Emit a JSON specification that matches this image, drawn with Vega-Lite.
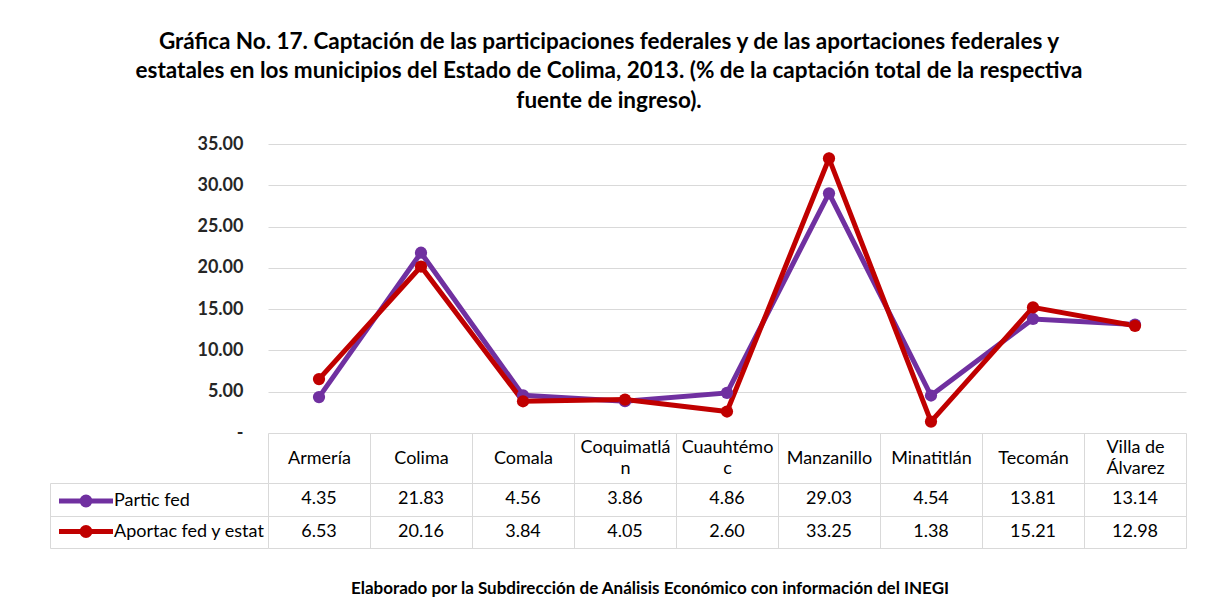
{
  "$schema": "https://vega.github.io/schema/vega-lite/v6.json",
  "autosize": "none",
  "padding": {"left": 268, "top": 144, "right": 943, "bottom": 460},
  "background": "white",
  "config": {"font": "Lato", "view": {"stroke": null}},
  "title": {
    "text": ["Gráfica No. 17. Captación de las participaciones federales y de las aportaciones federales y", "estatales en los municipios del Estado de Colima, 2013. (% de la captación total de la respectiva", "fuente de ingreso)."],
    "fontSize": 22.5, "fontWeight": "bold", "color": "black", "lineHeight": 29.5, "anchor": "middle", "offset": 23, "dx": -9
  },
  "data": {"values": [
    {"municipio": "Armería", "serie": "Partic fed", "valor": 4.35},
    {"municipio": "Colima", "serie": "Partic fed", "valor": 21.83},
    {"municipio": "Comala", "serie": "Partic fed", "valor": 4.56},
    {"municipio": "Coquimatlán", "serie": "Partic fed", "valor": 3.86},
    {"municipio": "Cuauhtémoc", "serie": "Partic fed", "valor": 4.86},
    {"municipio": "Manzanillo", "serie": "Partic fed", "valor": 29.03},
    {"municipio": "Minatitlán", "serie": "Partic fed", "valor": 4.54},
    {"municipio": "Tecomán", "serie": "Partic fed", "valor": 13.81},
    {"municipio": "Villa de Álvarez", "serie": "Partic fed", "valor": 13.14},
    {"municipio": "Armería", "serie": "Aportac fed y estat", "valor": 6.53},
    {"municipio": "Colima", "serie": "Aportac fed y estat", "valor": 20.16},
    {"municipio": "Comala", "serie": "Aportac fed y estat", "valor": 3.84},
    {"municipio": "Coquimatlán", "serie": "Aportac fed y estat", "valor": 4.05},
    {"municipio": "Cuauhtémoc", "serie": "Aportac fed y estat", "valor": 2.60},
    {"municipio": "Manzanillo", "serie": "Aportac fed y estat", "valor": 33.25},
    {"municipio": "Minatitlán", "serie": "Aportac fed y estat", "valor": 1.38},
    {"municipio": "Tecomán", "serie": "Aportac fed y estat", "valor": 15.21},
    {"municipio": "Villa de Álvarez", "serie": "Aportac fed y estat", "valor": 12.98}
  ]},
  "bounds": "flush",
  "spacing": 50,
  "vconcat": [
    {
      "width": 918, "height": 289,
      "encoding": {
        "x": {"field": "municipio", "type": "nominal", "sort": null, "scale": {"paddingInner": 0, "paddingOuter": 0}, "axis": null},
        "y": {"field": "valor", "type": "quantitative", "scale": {"domain": [0, 35], "nice": false},
          "axis": {"values": [0, 5, 10, 15, 20, 25, 30, 35], "labelExpr": "datum.value == 0 ? '-' : format(datum.value, '.2f')", "domain": false, "ticks": false, "labelPadding": 25, "labelFontSize": 18, "labelFontWeight": "bold", "labelColor": "#262626", "gridColor": "#D9D9D9", "title": null}},
        "color": {"field": "serie", "type": "nominal", "sort": ["Partic fed", "Aportac fed y estat"],
          "scale": {"domain": ["Partic fed", "Aportac fed y estat"], "range": ["#7030A0", "#C00000"]},
          "legend": {"orient": "none", "legendX": -191, "legendY": 348, "title": null, "padding": 0,
            "symbolType": "M-5.4,0H5.4M0.8,0A0.8,0.8,0,1,1,-0.8,0A0.8,0.8,0,1,1,0.8,0Z", "symbolSize": 100, "symbolStrokeWidth": 5,
            "labelFontSize": 18, "labelColor": "black", "labelOffset": 19, "rowPadding": 2.5, "labelLimit": 0}}
      },
      "layer": [
        {"mark": {"type": "line", "strokeWidth": 5}},
        {"mark": {"type": "point", "filled": true, "size": 150, "opacity": 1}}
      ]
    },
    {
      "width": 918, "height": 65,
      "mark": {"type": "text", "fontSize": 18, "color": "black"},
      "encoding": {
        "x": {"field": "municipio", "type": "nominal", "sort": null, "scale": {"paddingInner": 0, "paddingOuter": 0},
          "axis": {"orient": "top", "tickBand": "extent", "tickSize": 50, "tickColor": "#D9D9D9", "domain": false,
            "labelPadding": {"condition": {"test": "indexof(['Coquimatlán', 'Cuauhtémoc', 'Villa de Álvarez'], datum.value) >= 0", "value": -14}, "value": -25},
            "labelBaseline": "middle", "labelAngle": 0, "labelFontSize": 18, "labelColor": "black", "labelLineHeight": 21, "labelOverlap": false, "labelLimit": 0,
            "labelExpr": "datum.value == 'Coquimatlán' ? ['Coquimatlá', 'n'] : datum.value == 'Cuauhtémoc' ? ['Cuauhtémo', 'c'] : datum.value == 'Villa de Álvarez' ? ['Villa de', 'Álvarez'] : datum.value",
            "grid": true, "gridColor": "#D9D9D9", "title": null}},
        "y": {"field": "serie", "type": "nominal", "sort": ["Partic fed", "Aportac fed y estat"], "scale": {"paddingInner": 0, "paddingOuter": 0},
          "axis": {"orient": "left", "offset": 218, "tickBand": "extent", "tickSize": -218, "tickColor": "#D9D9D9", "domainColor": "#D9D9D9", "labels": false, "grid": true, "gridColor": "#D9D9D9", "title": null}},
        "text": {"field": "valor", "type": "quantitative", "format": ".2f"}
      },
      "title": {"text": "Elaborado por la Subdirección de Análisis Económico con información del INEGI", "orient": "bottom", "fontSize": 17, "fontWeight": "bold", "color": "black", "anchor": "middle", "offset": 32, "dx": -77}
    }
  ]
}
